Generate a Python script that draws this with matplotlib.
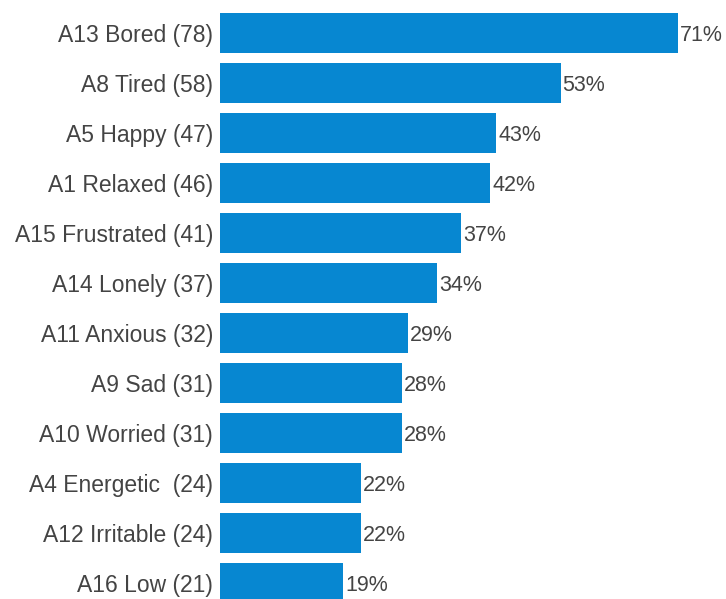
import matplotlib.pyplot as plt

labels = ['A13 Bored (78)', 'A8 Tired (58)', 'A5 Happy (47)', 'A1 Relaxed (46)',
          'A15 Frustrated (41)', 'A14 Lonely (37)', 'A11 Anxious (32)', 'A9 Sad (31)',
          'A10 Worried (31)', 'A4 Energetic  (24)', 'A12 Irritable (24)', 'A16 Low (21)']
counts = [78, 58, 47, 46, 41, 37, 32, 31, 31, 24, 24, 21]
pct_labels = ['71%', '53%', '43%', '42%', '37%', '34%', '29%', '28%', '28%', '22%', '22%', '19%']

plt.rcParams['font.family'] = ['Liberation Sans', 'DejaVu Sans']

fig = plt.figure(figsize=(7.26, 5.99), dpi=100)
W, H = 726, 599
ax = fig.add_axes([220 / W, 0, 1 - 220 / W, 1])

y = list(range(len(labels)))
bars = ax.barh(y, counts, height=0.79, color='#0787d1')

# scale: 78 -> 458 px, axes width 506 px
ax.set_xlim(0, 78 * 506 / 458)
ax.set_ylim(-0.66 + H / 50, -0.66)

ax.set_yticks(y)
ax.set_yticklabels(labels, fontsize=16.5, color='#444444')
ax.tick_params(axis='y', length=0, pad=5)
ax.set_xticks([])
for s in ax.spines.values():
    s.set_visible(False)

for b, t in zip(bars, pct_labels):
    ax.annotate(t, (b.get_width(), b.get_y() + b.get_height() / 2),
                xytext=(1.5, -1.5), textcoords='offset points',
                va='center', ha='left', fontsize=15.5, color='#444444')

fig.savefig('out.png', dpi=100)
